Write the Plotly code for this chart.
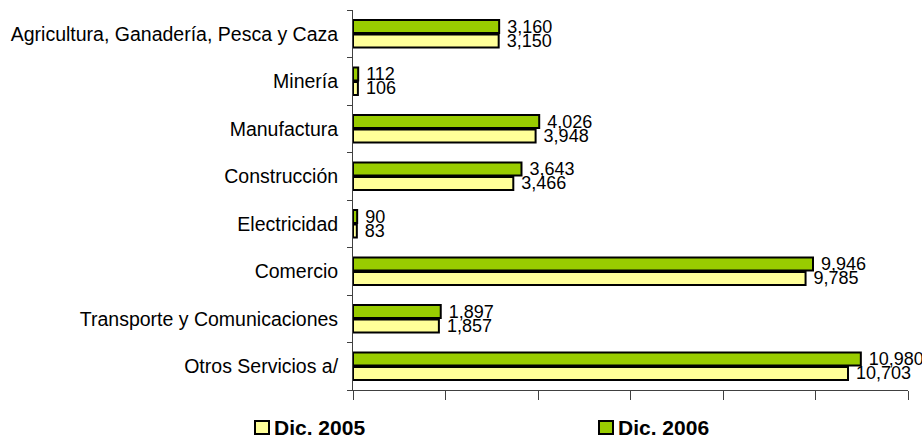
import plotly.graph_objects as go

categories = [
    "Agricultura, Ganadería, Pesca y Caza",
    "Minería",
    "Manufactura",
    "Construcción",
    "Electricidad",
    "Comercio",
    "Transporte y Comunicaciones",
    "Otros Servicios a/",
]
dic_2005 = [3150, 106, 3948, 3466, 83, 9785, 1857, 10703]
dic_2006 = [3160, 112, 4026, 3643, 90, 9946, 1897, 10980]
series_names = ["Dic. 2005", "Dic. 2006"]
series_colors = ["#FFFF99", "#99CC00"]
x_ticks = [0, 2000, 4000, 6000, 8000, 10000, 12000]

FONT = "Liberation Sans, Arial, sans-serif"
W, H = 922, 436
ML, MR, MT, MB = 353, 14, 10, 46
PW, PH = W - ML - MR, H - MT - MB

fig = go.Figure()
for name, vals, col in zip(series_names, [dic_2005, dic_2006], series_colors):
    fig.add_trace(go.Bar(
        y=categories, x=vals, orientation="h", name=name,
        marker=dict(color=col, line=dict(color="#000000", width=2)),
        texttemplate="\u00a0%{x:,}", textposition="outside",
        constraintext="none", cliponaxis=False,
        textfont=dict(family=FONT, size=18, color="#000000"),
        showlegend=False,
    ))

# manual legend (positions in pixels converted to paper coordinates)
def px_x(p):
    return (p - ML) / PW

def px_y(p):
    return (H - MB - p) / PH

shapes = []
annotations = []
legend_left = [255, 599]
for left, name, col in zip(legend_left, series_names, series_colors):
    shapes.append(dict(
        type="rect", xref="paper", yref="paper",
        x0=px_x(left), x1=px_x(left + 14), y0=px_y(434), y1=px_y(421),
        fillcolor=col, line=dict(color="#000000", width=2),
    ))
    annotations.append(dict(
        text="<b>%s</b>" % name, xref="paper", yref="paper",
        x=px_x(left + 18), y=px_y(427.5), xanchor="left", yanchor="middle",
        showarrow=False, borderpad=0,
        font=dict(family=FONT, size=21, color="#000000"),
    ))

fig.update_layout(
    width=W, height=H,
    margin=dict(l=ML, r=MR, t=MT, b=MB, pad=0),
    paper_bgcolor="white", plot_bgcolor="white",
    barmode="group", bargap=0.39, bargroupgap=0.1,
    font=dict(family=FONT, size=19.5, color="#000000"),
    showlegend=False,
    shapes=shapes, annotations=annotations,
    xaxis=dict(
        range=[0, 12000], tickvals=x_ticks, showticklabels=False,
        ticks="outside", ticklen=9, tickcolor="#404040", tickwidth=1,
        showline=True, linecolor="#404040", linewidth=1,
        showgrid=False, zeroline=False, fixedrange=True, automargin=False,
    ),
    yaxis=dict(
        type="category", categoryorder="array",
        categoryarray=categories[::-1],
        tickson="boundaries", ticks="outside", ticklen=5,
        tickcolor="#404040", tickwidth=1,
        showline=True, linecolor="#404040", linewidth=1,
        showgrid=False, zeroline=False, ticklabelstandoff=10,
        tickfont=dict(family=FONT, size=19.5, color="#000000"),
        fixedrange=True, automargin=False,
    ),
)

fig.write_html(
    "out.html",
    config={"displayModeBar": False},
    post_script="document.body.style.margin='0';document.body.style.overflow='hidden';",
)
